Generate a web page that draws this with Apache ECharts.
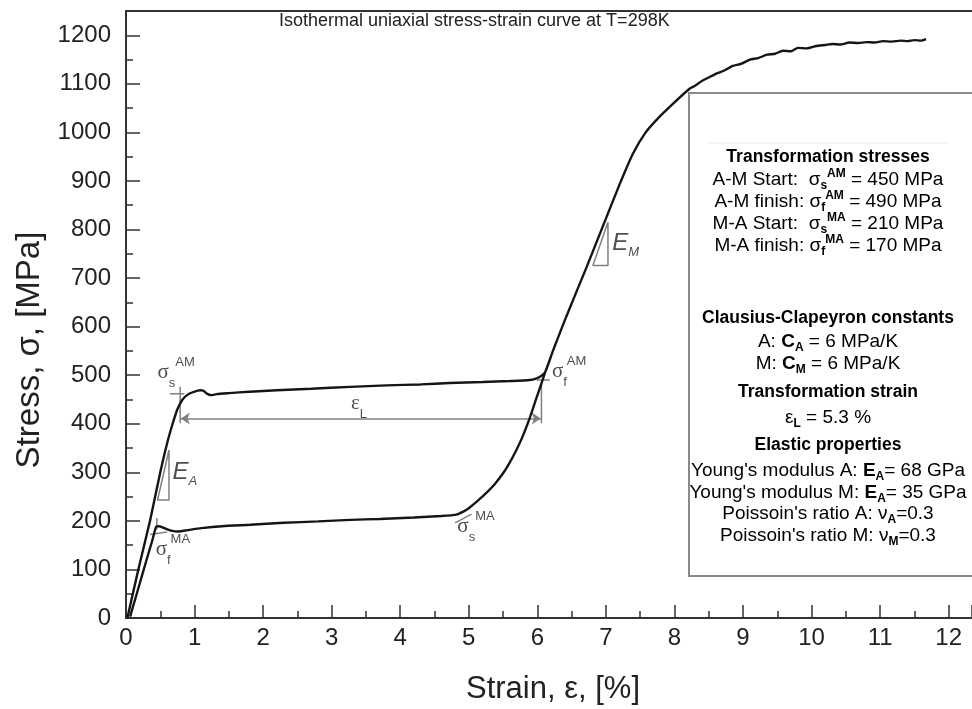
<!DOCTYPE html>
<html><head><meta charset="utf-8">
<script src="https://cdn.jsdelivr.net/npm/echarts@6/dist/echarts.min.js"></script>
<style>html,body{margin:0;padding:0;background:#fff}#c{width:972px;height:709px}</style>
</head><body><div id="c"></div>
<script>
// ---- data ----
const loadStrain = [0.02,0.18,0.35,0.50,0.60,0.68,0.75,0.82,0.90,1.00,1.08,1.13,1.18,1.24,1.32,1.50,1.80,2.20,2.70,3.27,3.80,4.30,4.72,5.20,5.60,5.89,5.98,6.05,6.11,6.23,6.42,6.72,7.01,7.20,7.39,7.58,7.78,8.00,8.22,8.30,8.40,8.50,8.61,8.72,8.85,8.97,9.10,9.22,9.35,9.47,9.58,9.70,9.80,9.93,10.07,10.20,10.30,10.42,10.55,10.68,10.80,10.92,11.04,11.17,11.30,11.40,11.50,11.60,11.67];
const loadStress = [0,100,200,300,360,400,430,449,460,466,469,468,462,459,461,463,466,469,472,476,479,481,484,486,488,490,493,498,505,551,620,723,826,893,955,1000,1032,1062,1090,1096,1106,1113,1121,1127,1137,1141,1150,1153,1160,1162,1168,1167,1174,1173,1178,1180,1182,1181,1185,1184,1186,1185,1188,1187,1189,1188,1190,1189,1192];
const unloadStrain = [6.11,6.06,5.98,5.89,5.78,5.68,5.58,5.50,5.38,5.26,5.12,5.00,4.92,4.82,4.60,4.20,3.70,3.27,2.80,2.30,1.81,1.40,1.10,0.90,0.76,0.66,0.56,0.48,0.44,0.38,0.30,0.20,0.12,0.06];
const unloadStress = [505,483,450,412,372,342,316,298,276,258,240,226,219,213,210,207,204,202,199,196,192,189,185,181,178,180,185,189,188,158,120,71,32,3];
const xTickLabels = [0,1,2,3,4,5,6,7,8,9,10,11,12];
const yTickLabels = [0,100,200,300,400,500,600,700,800,900,1000,1100,1200];

// annotation guides (data units)
const eaTriangle = [[0.627,346],[0.627,243],[0.46,243],[0.627,346]];
const emTriangle = [[7.03,815],[7.03,726],[6.81,726],[7.03,815]];
const leftBar = [[0.79,476],[0.79,401]];
const rightBar = [[6.06,483],[6.06,401]];
const sAMtick = [[0.64,462],[0.85,462]];
const fAMtick = [[5.99,490],[6.18,490]];
const sMAtick = [[4.80,196],[5.04,214]];
const fMAtick = [[0.35,172],[0.60,177]];
const fMAvtick = [[0.45,183],[0.45,206]];
const epsArrow = [[0.80,411],[6.05,411]];

const title = 'Isothermal uniaxial stress-strain curve at T=298K';
const xName = 'Strain, ε, [%]';
const yName = 'Stress, σ, [MPa]';

const FONT = "'Liberation Sans', Arial, sans-serif";
const pair = (xs, ys) => xs.map((x, i) => [x, ys[i]]);
const annColor = '#808080';
const seg = (pts, w) => ({type:'line', data:pts, symbol:'none', silent:true, z:3,
  lineStyle:{color:annColor, width:w||1.5}, animation:false});

const sigRich = {
  g:{fontSize:21, fontFamily:"'Liberation Serif', serif", color:'#222', lineHeight:34, verticalAlign:'middle'},
  lo:{fontSize:13, fontFamily:FONT, color:'#222', lineHeight:13, verticalAlign:'bottom'},
  hi:{fontSize:13, fontFamily:FONT, color:'#222', lineHeight:13, verticalAlign:'top'},
  e:{fontSize:24, fontStyle:'italic', fontFamily:FONT, color:'#222', lineHeight:30, verticalAlign:'middle'},
  el:{fontSize:13, fontStyle:'italic', fontFamily:FONT, color:'#222', lineHeight:13, verticalAlign:'bottom'}
};
const annLabels = [
  {value:[0.466,504], t:'{g|σ}{lo|s}{hi|AM}'},
  {value:[6.22,506], t:'{g|σ}{lo|f}{hi|AM}'},
  {value:[4.84,187], t:'{g|σ}{lo|s}{hi|MA}'},
  {value:[0.44,140], t:'{g|σ}{lo|f}{hi|MA}'},
  {value:[3.29,440], t:'{g|ε}{lo|L}'},
  {value:[0.685,298], t:'{e|E}{el|A}'},
  {value:[7.10,770], t:'{e|E}{el|M}'}
];

const boxRich = {
  b:{fontSize:17.5, fontWeight:'bold', fontFamily:FONT, color:'#222', lineHeight:24, verticalAlign:'middle'},
  n:{fontSize:19, fontFamily:FONT, color:'#222', lineHeight:24, verticalAlign:'middle'},
  nb:{fontSize:19, fontWeight:'bold', fontFamily:FONT, color:'#222', lineHeight:24, verticalAlign:'middle'},
  sub:{fontSize:12, fontWeight:'bold', fontFamily:FONT, color:'#222', lineHeight:11, verticalAlign:'bottom'},
  sup:{fontSize:12, fontWeight:'bold', fontFamily:FONT, color:'#222', lineHeight:11, verticalAlign:'top'}
};
const boxLines = [
  [157, '{b|Transformation stresses}'],
  [180, '{n|A-M Start:  σ}{sub|s}{sup|AM}{n| = 450 MPa}'],
  [202, '{n|A-M finish: σ}{sub|f}{sup|AM}{n| = 490 MPa}'],
  [224, '{n|M-A Start:  σ}{sub|s}{sup|MA}{n| = 210 MPa}'],
  [246, '{n|M-A finish: σ}{sub|f}{sup|MA}{n| = 170 MPa}'],
  [318, '{b|Clausius-Clapeyron constants}'],
  [342, '{n|A: }{nb|C}{sub|A}{n| = 6 MPa/K}'],
  [364, '{n|M: }{nb|C}{sub|M}{n| = 6 MPa/K}'],
  [392, '{b|Transformation strain}'],
  [418, '{n|ε}{sub|L}{n| = 5.3 %}'],
  [445, '{b|Elastic properties}'],
  [471, "{n|Young's modulus A: }{nb|E}{sub|A}{n|= 68 GPa}"],
  [493, "{n|Young's modulus M: }{nb|E}{sub|A}{n|= 35 GPa}"],
  [514, "{n|Poissoin's ratio A: ν}{sub|A}{n|=0.3}"],
  [536, "{n|Poissoin's ratio M: ν}{sub|M}{n|=0.3}"]
];

const chart = echarts.init(document.getElementById('c'), null, {renderer:'canvas'});
const axisLineStyle = {color:'#333', width:2};
const XMAX = 12.34;
const option = {
  animation:false,
  backgroundColor:'#fff',
  grid:{left:126, top:11, right:0, bottom:91, show:false, containLabel:false, outerBoundsMode:'none'},
  xAxis:[
    {type:'value', min:0, max:XMAX, interval:0.5, position:'bottom',
     axisLine:{show:true, onZero:false, lineStyle:axisLineStyle},
     axisTick:{show:true, inside:true, length:7, lineStyle:{color:'#333', width:1.5}},
     axisLabel:{margin:8, fontSize:24, fontFamily:FONT, color:'#222', showMaxLabel:false,
       formatter:v => xTickLabels.indexOf(v) >= 0 ? String(v) : ''},
     splitLine:{show:false}},
    {type:'value', min:0, max:XMAX, interval:1, position:'bottom',
     axisLine:{show:false}, axisTick:{show:true, inside:true, length:13, lineStyle:{color:'#333', width:1.5}},
     axisLabel:{show:false}, splitLine:{show:false}},
    {type:'value', min:0, max:XMAX, position:'top',
     axisLine:{show:true, onZero:false, lineStyle:axisLineStyle},
     axisTick:{show:false}, axisLabel:{show:false}, splitLine:{show:false}}
  ],
  yAxis:[
    {type:'value', min:0, max:1250, interval:50, position:'left',
     axisLine:{show:true, onZero:false, lineStyle:axisLineStyle},
     axisTick:{show:true, inside:true, length:7, lineStyle:{color:'#333', width:1.5}},
     axisLabel:{margin:15, fontSize:24, fontFamily:FONT, color:'#222',
       formatter:v => yTickLabels.indexOf(v) >= 0 ? String(v) : ''},
     splitLine:{show:false}},
    {type:'value', min:0, max:1250, interval:100, position:'left',
     axisLine:{show:false}, axisTick:{show:true, inside:true, length:14, lineStyle:{color:'#333', width:1.5}},
     axisLabel:{show:false}, splitLine:{show:false}}
  ],
  series:[
    {type:'line', name:'loading', data:pair(loadStrain, loadStress), symbol:'none', z:5, smooth:0.2,
     lineStyle:{color:'#151515', width:2.4}},
    {type:'line', name:'unloading', data:pair(unloadStrain, unloadStress), symbol:'none', z:5, smooth:0.2,
     lineStyle:{color:'#151515', width:2.4}},
    seg(eaTriangle), seg(emTriangle), seg(leftBar), seg(rightBar),
    seg(sAMtick), seg(fAMtick), seg(sMAtick), seg(fMAtick), seg(fMAvtick),
    {type:'lines', coordinateSystem:'cartesian2d', silent:true, z:3,
     symbol:['arrow','arrow'], symbolSize:[9,9],
     lineStyle:{color:annColor, width:1.5, opacity:1},
     data:[{coords:epsArrow}]},
    {type:'scatter', silent:true, symbolSize:1, itemStyle:{color:'transparent'}, z:6,
     data:annLabels.map(d => ({value:d.value, label:{show:true, position:[0,0], align:'left', verticalAlign:'middle', formatter:d.t, rich:sigRich}}))}
  ],
  graphic:[
    {type:'text', left:279, top:12, z:20, style:{text:title, font:"18px 'Liberation Sans', Arial", fill:'#222'}},
    {type:'text', x:553, y:689, z:20, style:{text:xName, x:0, y:0, align:'center', verticalAlign:'middle', font:"31px 'Liberation Sans', Arial", fill:'#222'}},
    {type:'text', x:30, y:350, rotation:Math.PI/2, z:20, style:{text:yName, x:0, y:0, align:'center', verticalAlign:'middle', font:"33px 'Liberation Sans', Arial", fill:'#222'}},
    {type:'rect', z:15, shape:{x:689, y:93, width:300, height:483}, style:{fill:'#fff', stroke:'#8a8a8a', lineWidth:2}},
    {type:'line', z:16, shape:{x1:707, y1:143, x2:948, y2:143}, style:{stroke:'#ececec', lineWidth:1}}
  ].concat(boxLines.map(l => ({type:'text', z:17, x:828, y:l[0],
     style:{text:l[1], x:0, y:0, align:'center', verticalAlign:'middle', rich:boxRich}})))
};
chart.setOption(option);
</script>
</body></html>
